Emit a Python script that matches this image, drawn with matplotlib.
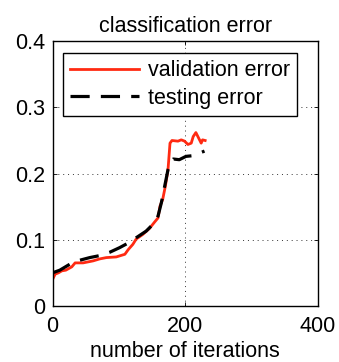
import matplotlib
matplotlib.use("Agg")
import matplotlib.pyplot as plt

plt.rcParams['font.family'] = ['Liberation Sans', 'DejaVu Sans']

# Data
val_iter = [0, 4, 9, 14, 20, 29, 34, 46, 61, 71, 81, 96, 109, 114, 121, 126, 136, 146, 154, 159,
            162, 166, 170, 174, 177, 180, 189, 194, 199, 204, 209, 212, 216, 220, 224, 226, 230]
val_err = [0.040, 0.048, 0.050, 0.053, 0.054, 0.059, 0.065, 0.065, 0.068, 0.071, 0.073, 0.074, 0.078,
           0.085, 0.093, 0.101, 0.108, 0.117, 0.127, 0.133, 0.151, 0.161, 0.181, 0.206, 0.246, 0.250,
           0.249, 0.251, 0.249, 0.244, 0.246, 0.256, 0.262, 0.254, 0.246, 0.251, 0.250]

test_iter = [0, 11, 26, 41, 56, 71, 86, 101, 114, 126, 141, 154, 159, 164, 169, 174, 179, 182,
             191, 201, 211, 219, 229]
test_err = [0.050, 0.054, 0.063, 0.069, 0.073, 0.076, 0.081, 0.088, 0.095, 0.103, 0.113, 0.126,
            0.136, 0.156, 0.181, 0.206, 0.219, 0.222, 0.221, 0.226, 0.227, 0.230, 0.234]

x_ticks = [0, 200, 400]
y_ticks = [0, 0.1, 0.2, 0.3, 0.4]
y_tick_labels = ['0', '0.1', '0.2', '0.3', '0.4']

fs = 15.5

fig = plt.figure(figsize=(3.39, 3.62), dpi=100)
ax = fig.add_axes([0.155, 0.155, 0.783, 0.731])

ax.plot(val_iter, val_err, color='#ff2a12', lw=2.0, label='validation error')
ax.plot(test_iter, test_err, color='black', lw=2.3, dashes=(6, 3.5), label='testing error')

ax.set_xlim(0, 400)
ax.set_ylim(0, 0.4)
ax.set_xticks(x_ticks)
ax.set_xticklabels([str(t) for t in x_ticks])
ax.set_yticks(y_ticks)
ax.set_yticklabels(y_tick_labels)
ax.tick_params(direction='in', length=3, width=0.6, labelsize=fs, top=True, right=True)
ax.tick_params(axis='x', pad=7)
ax.tick_params(axis='y', pad=5)
ax.grid(True, linestyle=(0, (1, 4)), color='black', lw=0.7, alpha=0.8)
for s in ax.spines.values():
    s.set_linewidth(1.0)

ax.set_title('classification error', fontsize=fs, pad=7)
ax.set_xlabel('number of iterations', fontsize=fs, labelpad=3)

leg = ax.legend(loc='upper left', bbox_to_anchor=(0.038, 0.957), borderaxespad=0,
                fancybox=False, edgecolor='black', framealpha=1, fontsize=fs,
                handlelength=3.2, handletextpad=0.4, borderpad=0.35, labelspacing=0.3)
leg.get_frame().set_linewidth(1.0)

fig.savefig('out.png', dpi=100)
